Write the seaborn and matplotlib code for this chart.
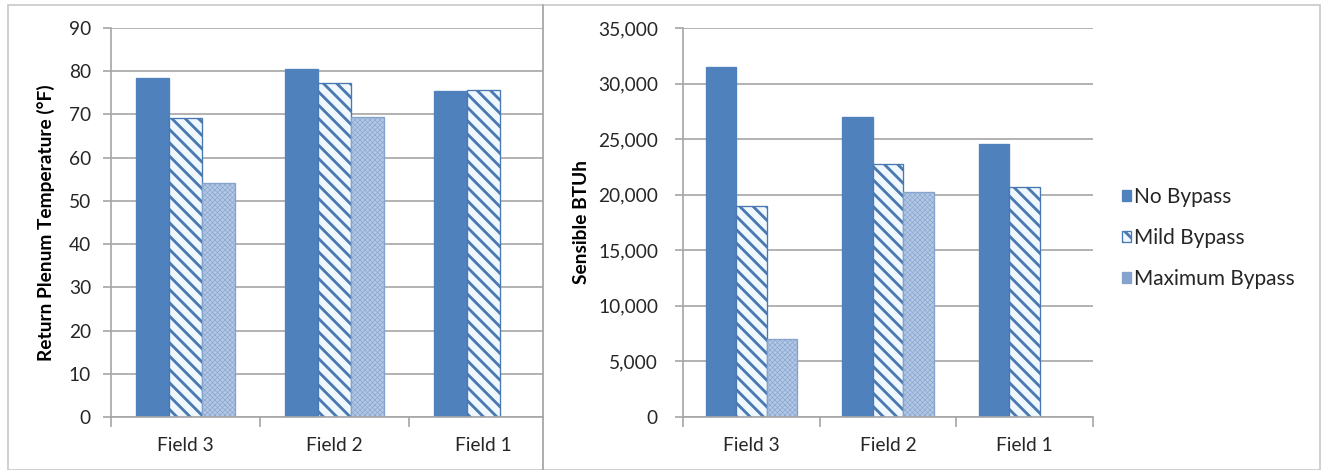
import numpy as np
import pandas as pd
import matplotlib
matplotlib.use("Agg")
import matplotlib.pyplot as plt
from matplotlib.patches import Patch, Rectangle
from matplotlib.lines import Line2D
from matplotlib.ticker import FuncFormatter, MultipleLocator
import seaborn as sns

# ---- data -------------------------------------------------------------
fields = ["Field 3", "Field 2", "Field 1"]
bypass_levels = ["No Bypass", "Mild Bypass", "Maximum Bypass"]

temp_no_bypass = [78.4, 80.6, 75.5]
temp_mild_bypass = [69.2, 77.2, 75.7]
temp_max_bypass = [54.1, 69.4, np.nan]

btuh_no_bypass = [31500, 27000, 24600]
btuh_mild_bypass = [19000, 22800, 20700]
btuh_max_bypass = [7000, 20200, np.nan]


def long_frame(no, mild, mx, name):
    rows = []
    for level, vals in zip(bypass_levels, [no, mild, mx]):
        for f, v in zip(fields, vals):
            rows.append({"Field": f, "Bypass": level, name: v})
    return pd.DataFrame(rows)


temp_df = long_frame(temp_no_bypass, temp_mild_bypass, temp_max_bypass, "Temp")
btuh_df = long_frame(btuh_no_bypass, btuh_mild_bypass, btuh_max_bypass, "BTUh")

# ---- styling ----------------------------------------------------------
sns.set_theme(style="white")
plt.rcParams["font.family"] = ["Lato", "DejaVu Sans"]
plt.rcParams["hatch.linewidth"] = 1.7

BLUE = "#4F81BD"
STRIPE = "#4A78B0"
STRIPE_BG = "#F0F8FF"
DOT_BG = "#B3C8E4"
DOT = "#86A3CD"
GRID = "#A6A6A6"
TEXT = "#262626"

styles = {
    "No Bypass": dict(facecolor=BLUE, edgecolor=BLUE, hatch=None, hlw=None),
    "Mild Bypass": dict(facecolor=STRIPE_BG, edgecolor=STRIPE, hatch="\\\\\\", hlw=1.7),
    "Maximum Bypass": dict(facecolor=DOT_BG, edgecolor=DOT, hatch="xxxxxxxx", hlw=0.35),
}

W, H, DPI = 1326, 470, 120
fig = plt.figure(figsize=(W / DPI, H / DPI), dpi=DPI)
fig.patch.set_facecolor("white")


def px_axes(x0, x1, y_top, y_bot):
    return fig.add_axes([x0 / W, 1 - y_bot / H, (x1 - x0) / W, (y_bot - y_top) / H])


# left chart is cut off by the divider, so its category axis stops short
LEFT_X0, LEFT_CAT, DIVIDER = 111, 149, 543
ax1 = px_axes(LEFT_X0, DIVIDER, 28, 417)
ax2 = px_axes(683, 1093, 28, 417)
left_xmax = -0.5 + (DIVIDER - LEFT_X0) / LEFT_CAT

FS = 11.5


def style_patch(p, st):
    p.set_facecolor(st["facecolor"])
    p.set_edgecolor(st["edgecolor"])
    p.set_linewidth(0.8)
    if st["hatch"]:
        p.set_hatch(st["hatch"])
        if hasattr(p, "set_hatch_linewidth"):
            p.set_hatch_linewidth(st["hlw"])


def draw_panel(ax, df, col, ymax, step, ylabel, fmt, xmax=2.5, ypad=7, lpad=8):
    sns.barplot(data=df, x="Field", y=col, hue="Bypass", order=fields,
                hue_order=bypass_levels, width=0.667, gap=0, dodge=True,
                errorbar=None, legend=False, ax=ax, saturation=1)
    for level, cont in zip(bypass_levels, ax.containers):
        for p in cont.patches:
            style_patch(p, styles[level])
    ax.set_ylim(0, ymax)
    ax.set_xlim(-0.5, xmax)
    ax.yaxis.set_major_locator(MultipleLocator(step))
    ax.yaxis.set_major_formatter(FuncFormatter(fmt))
    ax.grid(axis="y", color=GRID, linewidth=1.0)
    ax.set_axisbelow(True)
    for s in ["top", "right"]:
        ax.spines[s].set_visible(False)
    for s in ["left", "bottom"]:
        ax.spines[s].set_color(GRID)
        ax.spines[s].set_linewidth(1.0)
    ax.tick_params(axis="y", which="major", left=True, length=5, width=1.0,
                   color=GRID, labelsize=FS, labelcolor=TEXT, pad=ypad)
    ax.set_xticks([0, 1, 2])
    ax.set_xticklabels(fields)
    ax.set_xticks([b for b in [-0.5, 0.5, 1.5, 2.5] if b <= xmax], minor=True)
    ax.tick_params(axis="x", which="major", length=0, labelsize=FS,
                   labelcolor=TEXT, pad=12)
    ax.tick_params(axis="x", which="minor", bottom=True, length=6, width=1.0,
                   color=GRID)
    ax.set_xlabel("")
    ax.set_ylabel(ylabel, fontsize=FS, fontweight="bold", color="black",
                  labelpad=lpad)


draw_panel(ax1, temp_df, "Temp", 90, 10, "Return Plenum Temperature (°F)",
           lambda v, _: f"{v:.0f}", xmax=left_xmax)
draw_panel(ax2, btuh_df, "BTUh", 35000, 5000, "Sensible BTUh",
           lambda v, _: f"{v:,.0f}", ypad=10, lpad=5)

# legend built from the same bar styles
handles = []
for level in bypass_levels:
    st = styles[level]
    h = Patch(facecolor=st["facecolor"], edgecolor=st["edgecolor"],
              hatch=st["hatch"], linewidth=0.8, label=level)
    handles.append(h)
fig.legend(handles=handles, loc="center left",
           bbox_to_anchor=(1122 / W, 1 - 238 / H), frameon=False,
           fontsize=12.5, handlelength=0.45, handleheight=0.45,
           handletextpad=0.15, labelspacing=1.0, labelcolor=TEXT,
           borderpad=0, borderaxespad=0)

# outer frame and panel divider
fig.add_artist(Rectangle((8 / W, 0), (1320 - 8) / W, 1 - 5 / H,
                         transform=fig.transFigure, fill=False,
                         edgecolor="#C8C8C8", linewidth=1.0))
fig.add_artist(Line2D([DIVIDER / W, DIVIDER / W], [0, 1 - 5 / H],
                      transform=fig.transFigure, color="#A0A0A0",
                      linewidth=1.0))

fig.savefig("out.png", dpi=DPI)
